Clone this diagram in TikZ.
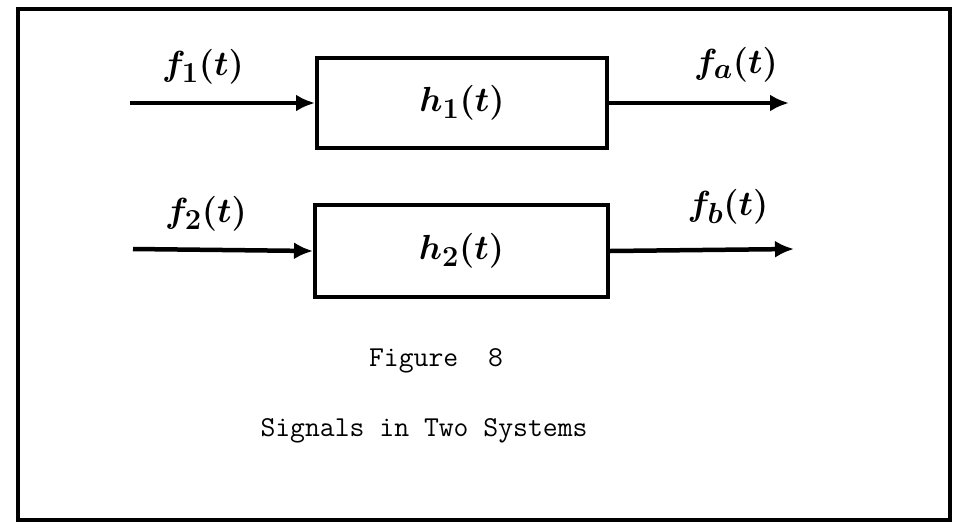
\documentclass[tikz,border=0pt]{standalone}
\usepackage{graphicx}
\usepackage{bm}
\usetikzlibrary{arrows.meta}
\newcommand{\biglab}[1]{\scalebox{1.4}{\fontsize{24.88}{28}\selectfont$\bm{#1}$}}
\newcommand{\captxt}[1]{\scalebox{1.16}{\ttfamily\fontsize{24.88}{28}\selectfont #1}}
\begin{document}
\begin{tikzpicture}[x=1pt,y=-1pt,
  frame/.style={line width=3.5pt},
  sysbox/.style={draw,line width=4pt,minimum width=290pt,minimum height=90pt,inner sep=0pt},
  sig/.style={line width=4.5pt,-{Latex[length=19pt,width=17pt]}},
  lab/.style={inner sep=0pt},
  captext/.style={inner sep=0pt,anchor=base}]
\useasboundingbox (0,0) rectangle (955,528);
\fill[white] (0,0) rectangle (955,528);
\draw[frame] (18,9) rectangle (950,520);
\node[sysbox] (h1) at (462,103) {\biglab{h_1(t)}};
\node[sysbox,minimum width=293pt,minimum height=92pt] (h2) at (461.5,251) {\biglab{h_2(t)}};
\coordinate (in1) at (130,103);
\coordinate (out1) at (789,103);
\coordinate (in2) at (133,249);
\coordinate (out2) at (794,249);
\draw[sig] (in1) -- (h1.west);
\draw[sig] (h1.east) -- (out1);
\draw[sig] (in2) -- (h2.west);
\draw[sig] (h2.east) -- (out2);
\node[lab] (lf1) at (203,67) {\biglab{f_1(t)}};
\node[lab] (lfa) at (736,65) {\biglab{f_a(t)}};
\node[lab] (lf2) at (206,214) {\biglab{f_2(t)}};
\node[lab] (lfb) at (728,207) {\biglab{f_b(t)}};
\node[captext] (fig) at (436,366) {\captxt{Figure~~8}};
\node[captext] (title) at (424,436) {\captxt{Signals in Two Systems}};
\end{tikzpicture}
\end{document}
